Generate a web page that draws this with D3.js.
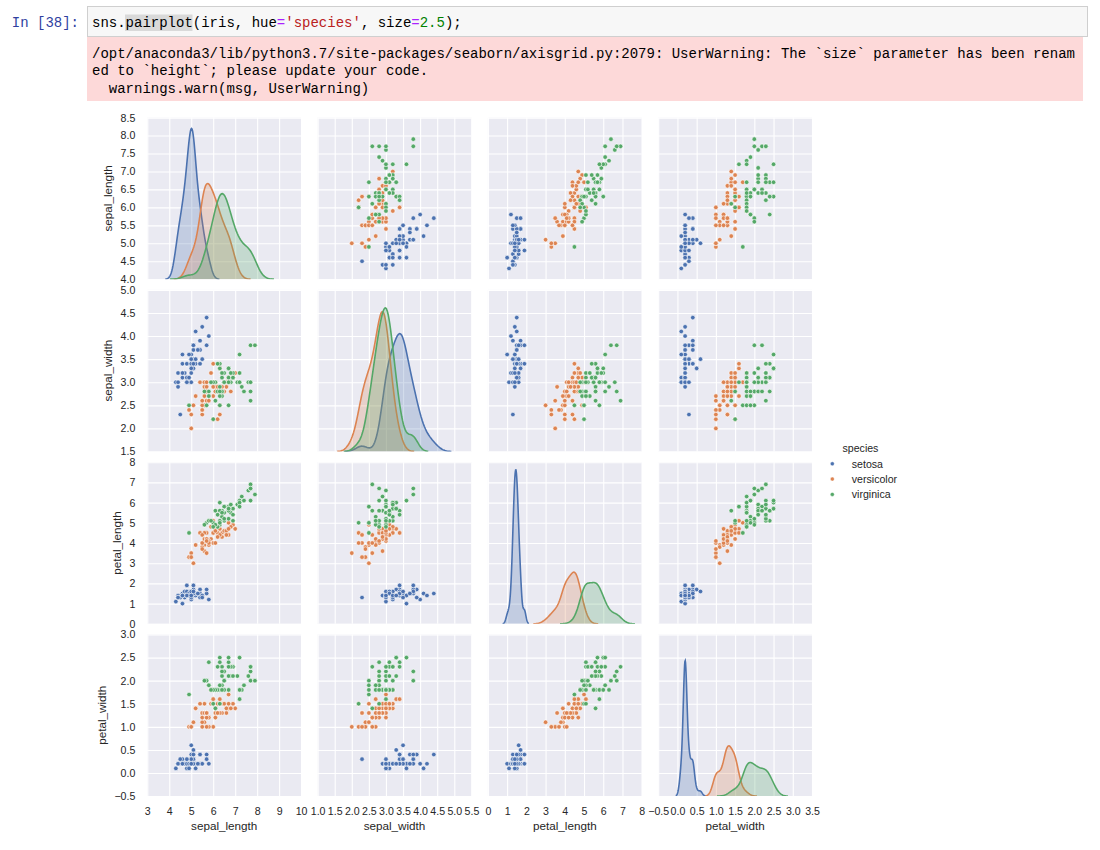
<!DOCTYPE html>
<html>
<head>
<meta charset="utf-8">
<script src="https://cdn.jsdelivr.net/npm/d3@7"></script>
<style>
  body { margin: 0; background: #fff; }
  .mono { font-family: "Liberation Mono", "Courier New", monospace; font-size: 14px; }
  .lbl { font-family: "Liberation Sans", Arial, sans-serif; fill: #262626; }
</style>
</head>
<body>
<svg id="chart" width="1100" height="850"></svg>
<script>
// iris data, rows 1-50 setosa, 51-100 versicolor, 101-150 virginica
const speciesNames = ["setosa", "versicolor", "virginica"];
const speciesCounts = [50, 50, 50];
const varNames = ["sepal_length", "sepal_width", "petal_length", "petal_width"];

const sepal_length = [
  5.1,4.9,4.7,4.6,5.0,5.4,4.6,5.0,4.4,4.9, 5.4,4.8,4.8,4.3,5.8,5.7,5.4,5.1,5.7,5.1, 5.4,5.1,4.6,5.1,4.8,5.0,5.0,5.2,5.2,4.7, 4.8,5.4,5.2,5.5,4.9,5.0,5.5,4.9,4.4,5.1, 5.0,4.5,4.4,5.0,5.1,4.8,5.1,4.6,5.3,5.0,
  7.0,6.4,6.9,5.5,6.5,5.7,6.3,4.9,6.6,5.2, 5.0,5.9,6.0,6.1,5.6,6.7,5.6,5.8,6.2,5.6, 5.9,6.1,6.3,6.1,6.4,6.6,6.8,6.7,6.0,5.7, 5.5,5.5,5.8,6.0,5.4,6.0,6.7,6.3,5.6,5.5, 5.5,6.1,5.8,5.0,5.6,5.7,5.7,6.2,5.1,5.7,
  6.3,5.8,7.1,6.3,6.5,7.6,4.9,7.3,6.7,7.2, 6.5,6.4,6.8,5.7,5.8,6.4,6.5,7.7,7.7,6.0, 6.9,5.6,7.7,6.3,6.7,7.2,6.2,6.1,6.4,7.2, 7.4,7.9,6.4,6.3,6.1,7.7,6.3,6.4,6.0,6.9, 6.7,6.9,5.8,6.8,6.7,6.7,6.3,6.5,6.2,5.9
];
const sepal_width = [
  3.5,3.0,3.2,3.1,3.6,3.9,3.4,3.4,2.9,3.1, 3.7,3.4,3.0,3.0,4.0,4.4,3.9,3.5,3.8,3.8, 3.4,3.7,3.6,3.3,3.4,3.0,3.4,3.5,3.4,3.2, 3.1,3.4,4.1,4.2,3.1,3.2,3.5,3.6,3.0,3.4, 3.5,2.3,3.2,3.5,3.8,3.0,3.8,3.2,3.7,3.3,
  3.2,3.2,3.1,2.3,2.8,2.8,3.3,2.4,2.9,2.7, 2.0,3.0,2.2,2.9,2.9,3.1,3.0,2.7,2.2,2.5, 3.2,2.8,2.5,2.8,2.9,3.0,2.8,3.0,2.9,2.6, 2.4,2.4,2.7,2.7,3.0,3.4,3.1,2.3,3.0,2.5, 2.6,3.0,2.6,2.3,2.7,3.0,2.9,2.9,2.5,2.8,
  3.3,2.7,3.0,2.9,3.0,3.0,2.5,2.9,2.5,3.6, 3.2,2.7,3.0,2.5,2.8,3.2,3.0,3.8,2.6,2.2, 3.2,2.8,2.8,2.7,3.3,3.2,2.8,3.0,2.8,3.0, 2.8,3.8,2.8,2.8,2.6,3.0,3.4,3.1,3.0,3.1, 3.1,3.1,2.7,3.2,3.3,3.0,2.5,3.0,3.4,3.0
];
const petal_length = [
  1.4,1.4,1.3,1.5,1.4,1.7,1.4,1.5,1.4,1.5, 1.5,1.6,1.4,1.1,1.2,1.5,1.3,1.4,1.7,1.5, 1.7,1.5,1.0,1.7,1.9,1.6,1.6,1.5,1.4,1.6, 1.6,1.5,1.5,1.4,1.5,1.2,1.3,1.4,1.3,1.5, 1.3,1.3,1.3,1.6,1.9,1.4,1.6,1.4,1.5,1.4,
  4.7,4.5,4.9,4.0,4.6,4.5,4.7,3.3,4.6,3.9, 3.5,4.2,4.0,4.7,3.6,4.4,4.5,4.1,4.5,3.9, 4.8,4.0,4.9,4.7,4.3,4.4,4.8,5.0,4.5,3.5, 3.8,3.7,3.9,5.1,4.5,4.5,4.7,4.4,4.1,4.0, 4.4,4.6,4.0,3.3,4.2,4.2,4.2,4.3,3.0,4.1,
  6.0,5.1,5.9,5.6,5.8,6.6,4.5,6.3,5.8,6.1, 5.1,5.3,5.5,5.0,5.1,5.3,5.5,6.7,6.9,5.0, 5.7,4.9,6.7,4.9,5.7,6.0,4.8,4.9,5.6,5.8, 6.1,6.4,5.6,5.1,5.6,6.1,5.6,5.5,4.8,5.4, 5.6,5.1,5.1,5.9,5.7,5.2,5.0,5.2,5.4,5.1
];
const petal_width = [
  0.2,0.2,0.2,0.2,0.2,0.4,0.3,0.2,0.2,0.1, 0.2,0.2,0.1,0.1,0.2,0.4,0.4,0.3,0.3,0.3, 0.2,0.4,0.2,0.5,0.2,0.2,0.4,0.2,0.2,0.2, 0.2,0.4,0.1,0.2,0.2,0.2,0.2,0.1,0.2,0.2, 0.3,0.3,0.2,0.6,0.4,0.3,0.2,0.2,0.2,0.2,
  1.4,1.5,1.5,1.3,1.5,1.3,1.6,1.0,1.3,1.4, 1.0,1.5,1.0,1.4,1.3,1.4,1.5,1.0,1.5,1.1, 1.8,1.3,1.5,1.2,1.3,1.4,1.4,1.7,1.5,1.0, 1.1,1.0,1.2,1.6,1.5,1.6,1.5,1.3,1.3,1.3, 1.2,1.4,1.2,1.0,1.3,1.2,1.3,1.3,1.1,1.3,
  2.5,1.9,2.1,1.8,2.2,2.1,1.7,1.8,1.8,2.5, 2.0,1.9,2.1,2.0,2.4,2.3,1.8,2.2,2.3,1.5, 2.3,2.0,2.0,1.8,2.1,1.8,1.8,1.8,2.1,1.6, 1.9,2.0,2.2,1.5,1.4,2.3,2.4,1.8,1.8,2.1, 2.4,2.3,1.9,2.3,2.5,2.3,1.9,2.0,2.3,1.8
];

// axis limits and ticks
const xDomains = [[3, 10], [1.0, 5.5], [0, 8], [-0.5, 3.5]];
const yDomains = [[4.0, 8.5], [1.5, 5.0], [0, 8], [-0.5, 3.0]];
const xTickValues = [
  [3, 4, 5, 6, 7, 8, 9, 10],
  [1.0, 1.5, 2.0, 2.5, 3.0, 3.5, 4.0, 4.5, 5.0, 5.5],
  [0, 1, 2, 3, 4, 5, 6, 7, 8],
  [-0.5, 0.0, 0.5, 1.0, 1.5, 2.0, 2.5, 3.0, 3.5]
];
const yTickValues = [
  [4.0, 4.5, 5.0, 5.5, 6.0, 6.5, 7.0, 7.5, 8.0, 8.5],
  [1.5, 2.0, 2.5, 3.0, 3.5, 4.0, 4.5, 5.0],
  [0, 1, 2, 3, 4, 5, 6, 7, 8],
  [-0.5, 0.0, 0.5, 1.0, 1.5, 2.0, 2.5, 3.0]
];
const xTickFormats = ["d", ".1f", "d", ".1f"];
const yTickFormats = [".1f", ".1f", "d", ".1f"];
// top of the (hidden) density axis in each diagonal panel
const diagDensityTop = [1.2, 1.4, 2.5, 6.0];

const palette = ["#4C72B0", "#DD8452", "#55A868"];

const svg = d3.select("#chart");

// ---- notebook cell ----
svg.append("text").attr("class", "mono").attr("x", 79).attr("y", 26.5)
  .attr("text-anchor", "end").attr("fill", "#303F9F").text("In [38]:");
svg.append("rect").attr("x", 87.5).attr("y", 6.5).attr("width", 1000).attr("height", 30)
  .attr("fill", "#f7f7f7").attr("stroke", "#cfcfcf");
svg.append("rect").attr("x", 125).attr("y", 14.5).attr("width", 67.5).attr("height", 16.5)
  .attr("fill", "#d9d9d9");
const code = svg.append("text").attr("class", "mono").attr("x", 92).attr("y", 27);
[["sns.pairplot(iris, hue", "#000"], ["=", "#AA22FF"], ["'species'", "#BA2121"],
 [", size", "#000"], ["=", "#AA22FF"], ["2.5", "#008000"], [");", "#000"]]
  .forEach(([t, c]) => code.append("tspan").attr("fill", c).text(t));

svg.append("rect").attr("x", 87).attr("y", 37).attr("width", 996).attr("height", 64)
  .attr("fill", "#fdd9d9");
const warnLines = [
  "/opt/anaconda3/lib/python3.7/site-packages/seaborn/axisgrid.py:2079: UserWarning: The `size` parameter has been renam",
  "ed to `height`; please update your code.",
  "  warnings.warn(msg, UserWarning)"
];
svg.selectAll("text.warn").data(warnLines).join("text")
  .attr("class", "mono warn").attr("x", 92).attr("y", (d, i) => 58 + i * 17.3)
  .attr("fill", "#000").style("white-space", "pre").attr("xml:space", "preserve").text(d => d);

// ---- pair grid ----
const columns = [sepal_length, sepal_width, petal_length, petal_width];
const species = speciesCounts.flatMap((n, k) => Array(n).fill(k));
const groupIdx = speciesNames.map((s, k) => d3.range(150).filter(r => species[r] === k));

const left0 = 147.3, top0 = 117.6, panelW = 153.8, panelH = 161.6;
const colStep = 170.3, rowStep = 172.3;

function kde(values) {
  // scipy-style gaussian kde, scott factor, cut = 3, 100 grid points
  const n = values.length;
  const mean = d3.mean(values);
  const sd1 = d3.deviation(values);
  const sd0 = Math.sqrt(d3.sum(values, v => (v - mean) ** 2) / n);
  const f = Math.pow(n, -1 / 5);
  const bw = f * sd1, cutBw = f * sd0;
  const lo = d3.min(values) - 3 * cutBw, hi = d3.max(values) + 3 * cutBw;
  return d3.range(100).map(k => {
    const g = lo + (hi - lo) * k / 99;
    const dens = d3.mean(values, v => Math.exp(-0.5 * ((g - v) / bw) ** 2)) / (bw * Math.sqrt(2 * Math.PI));
    return [g, dens];
  });
}

const defs = svg.append("defs");

for (let i = 0; i < 4; i++) {
  for (let j = 0; j < 4; j++) {
    const x0 = left0 + j * colStep, y0 = top0 + i * rowStep;
    const x = d3.scaleLinear().domain(xDomains[j]).range([x0, x0 + panelW]);
    const y = d3.scaleLinear().domain(yDomains[i]).range([y0 + panelH, y0]);
    const g = svg.append("g");
    const clipId = `clip-${i}-${j}`;
    defs.append("clipPath").attr("id", clipId).append("rect")
      .attr("x", x0).attr("y", y0).attr("width", panelW).attr("height", panelH);

    g.append("rect").attr("x", x0).attr("y", y0).attr("width", panelW).attr("height", panelH)
      .attr("fill", "#EAEAF2");

    // white grid
    g.append("g").attr("transform", `translate(0,${y0 + panelH})`)
      .call(d3.axisBottom(x).tickValues(xTickValues[j]).tickSize(-panelH).tickFormat(""))
      .call(a => a.select(".domain").remove())
      .call(a => a.selectAll("line").attr("stroke", "#fff").attr("stroke-width", 1.1));
    g.append("g").attr("transform", `translate(${x0},0)`)
      .call(d3.axisLeft(y).tickValues(yTickValues[i]).tickSize(-panelW).tickFormat(""))
      .call(a => a.select(".domain").remove())
      .call(a => a.selectAll("line").attr("stroke", "#fff").attr("stroke-width", 1.1));

    const plot = g.append("g").attr("clip-path", `url(#${clipId})`);
    if (i === j) {
      const ky = d3.scaleLinear().domain([0, diagDensityTop[i]]).range([y0 + panelH, y0]);
      speciesNames.forEach((s, k) => {
        const curve = kde(groupIdx[k].map(r => columns[j][r]));
        plot.append("path").datum(curve)
          .attr("fill", "none").attr("stroke", palette[k]).attr("stroke-width", 1.6)
          .attr("d", d3.line().x(d => x(d[0])).y(d => ky(d[1])));
        plot.append("path").datum(curve)
          .attr("fill", palette[k]).attr("fill-opacity", 0.25)
          .attr("d", d3.area().x(d => x(d[0])).y0(ky(0)).y1(d => ky(d[1])));
      });
    } else {
      plot.selectAll("circle").data(d3.range(150)).join("circle")
        .attr("cx", r => x(columns[j][r]))
        .attr("cy", r => y(columns[i][r]))
        .attr("r", 2.3)
        .attr("fill", r => palette[species[r]])
        .attr("stroke", "#fff").attr("stroke-width", 0.6);
    }

    if (i === 3) {
      const ax = g.append("g").attr("transform", `translate(0,${y0 + panelH})`)
        .call(d3.axisBottom(x).tickValues(xTickValues[j]).tickSize(0).tickPadding(11.5)
          .tickFormat(d3.format(xTickFormats[j])));
      ax.select(".domain").remove();
      ax.selectAll("text").attr("class", "lbl").style("font-size", "10.6px").attr("fill", "#262626");
      g.append("text").attr("class", "lbl").attr("x", x0 + panelW / 2).attr("y", y0 + panelH + 34)
        .attr("text-anchor", "middle").style("font-size", "11.7px").text(varNames[j]);
    }
    if (j === 0) {
      const ay = g.append("g").attr("transform", `translate(${x0},0)`)
        .call(d3.axisLeft(y).tickValues(yTickValues[i]).tickSize(0).tickPadding(12)
          .tickFormat(d3.format(yTickFormats[i])));
      ay.select(".domain").remove();
      ay.selectAll("text").attr("class", "lbl").style("font-size", "10.6px").attr("fill", "#262626");
      const tickLeft = ay.node().getBBox().x + x0;
      const lx = tickLeft - 8.6, ly = y0 + panelH / 2;
      g.append("text").attr("class", "lbl").attr("transform", `translate(${lx},${ly}) rotate(-90)`)
        .attr("text-anchor", "middle").style("font-size", "11.7px").text(varNames[i]);
    }
  }
}

// ---- legend ----
const leg = svg.append("g");
leg.append("text").attr("class", "lbl").attr("x", 842.5).attr("y", 451.8)
  .style("font-size", "10.6px").text("species");
const legY = d3.scalePoint().domain(speciesNames).range([463.8, 494.4]);
speciesNames.forEach((s, k) => {
  leg.append("circle").attr("cx", 832.3).attr("cy", legY(s)).attr("r", 2)
    .attr("fill", palette[k]).attr("stroke", "#fff").attr("stroke-width", 0.4);
  leg.append("text").attr("class", "lbl").attr("x", 851.8).attr("y", legY(s) + 3.7)
    .style("font-size", "10.6px").text(s);
});
</script>
</body>
</html>
